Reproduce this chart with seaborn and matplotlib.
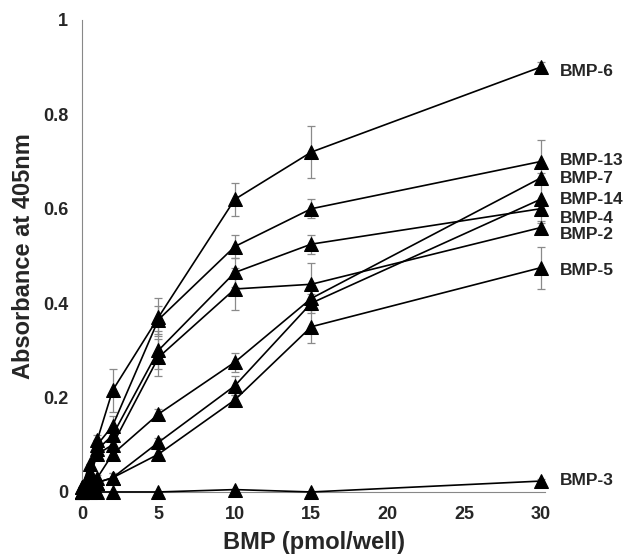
import numpy as np
import pandas as pd
import matplotlib
matplotlib.use("Agg")
import matplotlib.pyplot as plt
import seaborn as sns

sns.set_style("white")
plt.rcParams['font.family'] = ['Liberation Sans', 'DejaVu Sans']
plt.rcParams['font.weight'] = 'bold'

# ---- data ----
dose = [0, 0.5, 1, 2, 5, 10, 15, 30]
series_names = ["BMP-6", "BMP-13", "BMP-7", "BMP-14", "BMP-4", "BMP-2", "BMP-5", "BMP-3"]
bmp6 = [0.01, 0.06, 0.11, 0.215, 0.37, 0.62, 0.72, 0.90]
bmp13 = [0.01, 0.04, 0.10, 0.14, 0.365, 0.52, 0.60, 0.70]
bmp7 = [0.0, 0.02, 0.03, 0.08, 0.165, 0.275, 0.41, 0.665]
bmp14 = [0.0, 0.01, 0.02, 0.03, 0.105, 0.225, 0.40, 0.62]
bmp4 = [0.0, 0.03, 0.09, 0.12, 0.30, 0.465, 0.525, 0.60]
bmp2 = [0.0, 0.03, 0.08, 0.10, 0.285, 0.43, 0.44, 0.56]
bmp5 = [0.0, 0.01, 0.02, 0.03, 0.08, 0.195, 0.35, 0.475]
bmp3 = [0.0, 0.0, 0.0, 0.0, 0.0, 0.005, 0.0, 0.023]

err6 = [0, 0, 0.01, 0.045, 0.04, 0.035, 0.055, 0.01]
err13 = [0, 0, 0.01, 0.02, 0.03, 0.025, 0.02, 0.045]
err7 = [0, 0, 0.005, 0.01, 0.01, 0.02, 0.02, 0.01]
err14 = [0, 0, 0.005, 0.01, 0.01, 0.02, 0.02, 0.045]
err4 = [0, 0, 0.005, 0.01, 0.04, 0.03, 0.02, 0.01]
err2 = [0, 0, 0.005, 0.01, 0.04, 0.045, 0.045, 0.01]
err5 = [0, 0, 0.005, 0.01, 0.01, 0.01, 0.035, 0.045]
err3 = [0, 0, 0, 0, 0, 0, 0, 0.005]

label_y = [0.89, 0.703, 0.665, 0.62, 0.58, 0.545, 0.47, 0.025]

values = [bmp6, bmp13, bmp7, bmp14, bmp4, bmp2, bmp5, bmp3]
errors = [err6, err13, err7, err14, err4, err2, err5, err3]

df = pd.concat([pd.DataFrame({"dose": dose, "abs": v, "err": e, "series": n})
                for n, v, e in zip(series_names, values, errors)], ignore_index=True)

fig = plt.figure(figsize=(6.25, 5.54), dpi=100)
ax = fig.add_axes([0.1312, 0.112, 0.741, 0.852])

# error bars
for n in series_names:
    sub = df[df.series == n]
    ax.errorbar(sub["dose"], sub["abs"], yerr=sub["err"], fmt='none',
                ecolor='#8a8a8a', elinewidth=0.9, capsize=3, capthick=0.9,
                zorder=2, clip_on=False)

sns.lineplot(data=df, x="dose", y="abs", hue="series", palette=["black"] * len(series_names),
             marker='^', markersize=10, markeredgecolor='black', linewidth=1.2,
             legend=False, errorbar=None, sort=False, ax=ax, clip_on=False, zorder=3)

for n, ly in zip(series_names, label_y):
    ax.annotate(n, xy=(dose[-1], ly), xytext=(14, 0), textcoords='offset points',
                va='center', ha='left', fontsize=12.5, fontweight='bold')

ax.set_xlim(0, 30.3)
ax.set_ylim(0, 1)
ax.set_xticks([0, 5, 10, 15, 20, 25, 30])
ax.set_xticklabels(["0", "5", "10", "15", "20", "25", "30"])
ax.set_yticks([0, 0.2, 0.4, 0.6, 0.8, 1.0])
ax.set_yticklabels(["0", "0.2", "0.4", "0.6", "0.8", "1"])
ax.tick_params(axis='both', direction='in', length=6, width=0.8, color='#888888',
               labelsize=13, pad=10)
for lab in ax.get_xticklabels() + ax.get_yticklabels():
    lab.set_fontweight('bold')

for s in ['top', 'right']:
    ax.spines[s].set_visible(False)
for s in ['left', 'bottom']:
    ax.spines[s].set_color('#888888')
    ax.spines[s].set_linewidth(0.8)

ax.set_xlabel("BMP (pmol/well)", fontsize=17, fontweight='bold', labelpad=6)
ax.set_ylabel("Absorbance at 405nm", fontsize=17, fontweight='bold', labelpad=6)

fig.savefig("out.png", dpi=100)
